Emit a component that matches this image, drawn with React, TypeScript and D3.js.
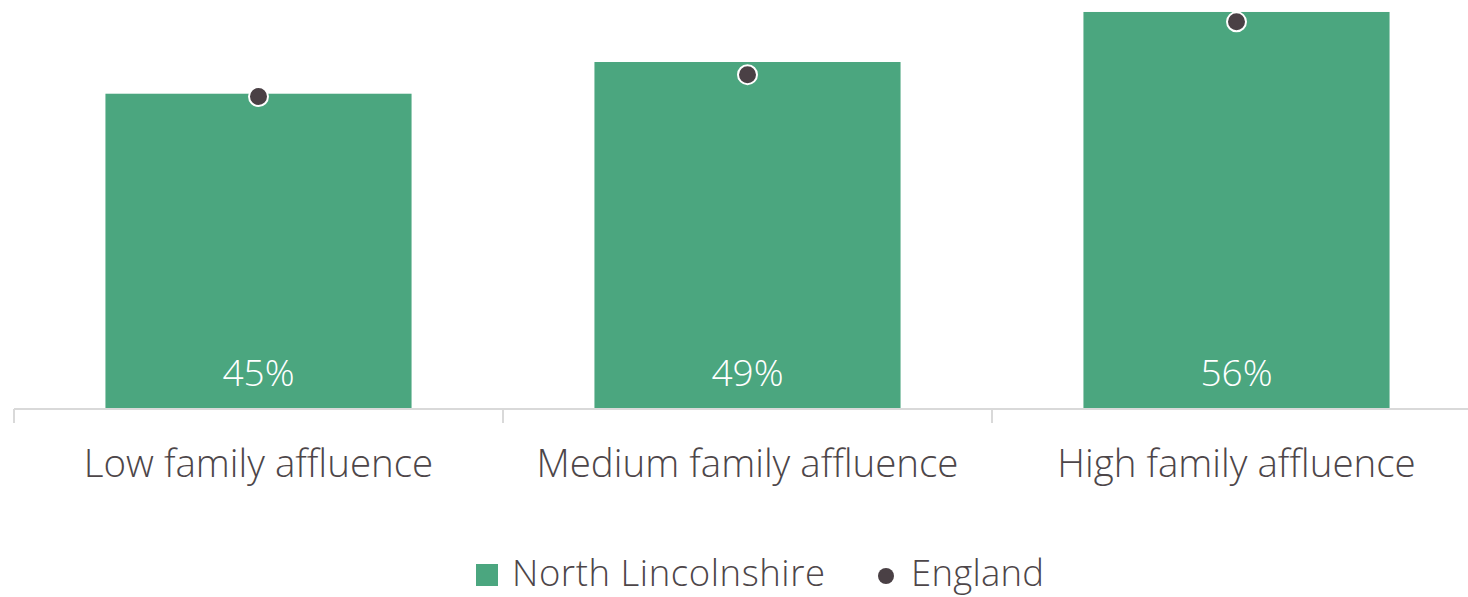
import React from "react";
import * as d3 from "d3";

const categories = ["Low family affluence", "Medium family affluence", "High family affluence"];
const northLincs = [44.6, 49.1, 56.2];
const england = [44.2, 47.3, 54.8];
const labels = ["45%", "49%", "56%"];
const legendNames = ["North Lincolnshire", "England"];

const W = 1468;
const H = 597;
const FONT = "'Open Sans', sans-serif";
const BAR = "#4ba67f";
const DOT = "#4a4045";
const TXT = "#4d4649";

export default function App() {
  const x = d3.scaleBand<string>().domain(categories).range([14, 1481]).paddingInner(0).paddingOuter(0);
  const y = d3.scaleLinear().domain([0, 57.9]).range([408, 0]);
  const bw = x.bandwidth() * 0.626;
  const ticks = [...categories.map((c) => x(c)!), 1481];
  return (
    <svg width={W} height={H} style={{ position: "absolute", left: 0, top: 0 }}>
      <rect width={W} height={H} fill="#fff" />
      {categories.map((c, i) => {
        const cx = x(c)! + x.bandwidth() / 2;
        return (
          <g key={c}>
            <rect x={cx - bw / 2} y={y(northLincs[i])} width={bw} height={y(0) - y(northLincs[i])} fill={BAR} />
            <text x={cx} y={386} textAnchor="middle" fill="#fff" fontFamily={FONT} fontWeight={300} fontSize={37}>
              {labels[i]}
            </text>
          </g>
        );
      })}
      <line x1={14} x2={1481} y1={409} y2={409} stroke="#d9d9d9" strokeWidth={2} />
      {ticks.map((t, i) => (
        <line key={i} x1={t} x2={t} y1={409} y2={423} stroke="#d9d9d9" strokeWidth={2} />
      ))}
      {categories.map((c, i) => {
        const cx = x(c)! + x.bandwidth() / 2;
        return (
          <g key={c + "e"}>
            <circle cx={cx} cy={y(england[i])} r={9.5} fill={DOT} stroke="#fff" strokeWidth={2} />
            <text x={cx} y={477} textAnchor="middle" fill={TXT} fontFamily={FONT} fontWeight={300} fontSize={38.5}>
              {c}
            </text>
          </g>
        );
      })}
      <rect x={476} y={564} width={22} height={22} fill={BAR} />
      <text x={512} y={586} fill={TXT} fontFamily={FONT} fontWeight={300} fontSize={36.5} textLength={313} lengthAdjust="spacing">
        {legendNames[0]}
      </text>
      <circle cx={886} cy={576} r={8} fill={DOT} />
      <text x={911} y={586} fill={TXT} fontFamily={FONT} fontWeight={300} fontSize={36.5} textLength={133} lengthAdjust="spacing">
        {legendNames[1]}
      </text>
    </svg>
  );
}
